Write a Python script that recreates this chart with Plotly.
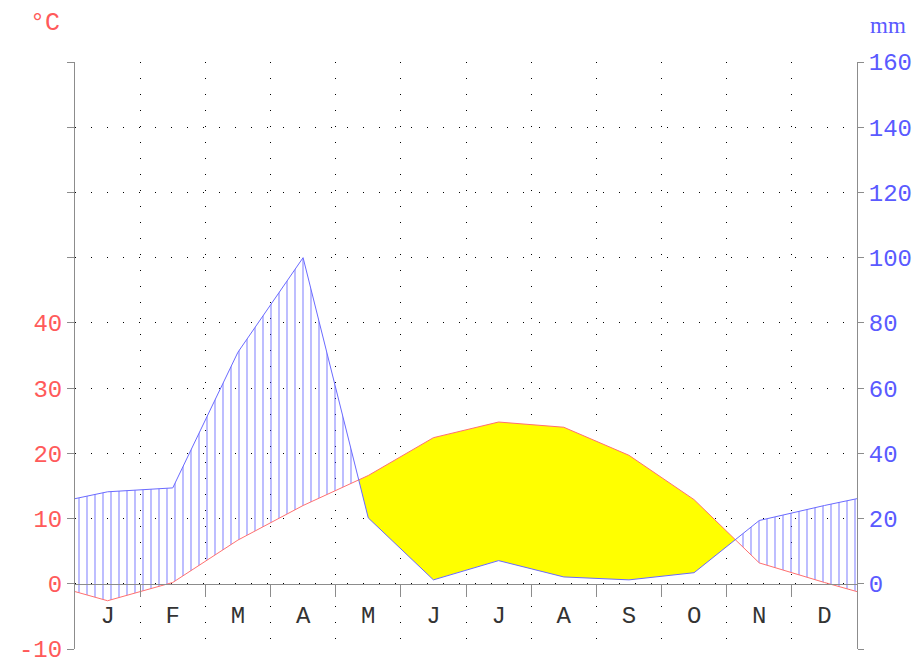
import plotly.graph_objects as go

months = ["J", "F", "M", "A", "M", "J", "J", "A", "S", "O", "N", "D"]
temp_c = [-2.6, 0.2, 6.7, 12.0, 16.6, 22.4, 24.8, 24.0, 19.7, 12.9, 3.2, 0.2]
precip_mm = [28.2, 29.4, 71.0, 100.0, 20.2, 1.2, 7.1, 2.1, 1.2, 3.4, 19.4, 24.0]
temp_ticks = [-10, 0, 10, 20, 30, 40, 50, 60, 70, 80]
temp_labels = ["-10", "0", "10", "20", "30", "40", "", "", "", ""]
precip_ticks = [-20, 0, 20, 40, 60, 80, 100, 120, 140, 160]
precip_labels = ["", "0", "20", "40", "60", "80", "100", "120", "140", "160"]

RED_TXT = "#ff5a5a"
BLUE_TXT = "#5a5aff"
AX = "#8c8c8c"
GRID = "#000000"
FONT = "Liberation Mono"

# extended series (wrap-around edges at 0 and 12), month centres at i+0.5
n = len(months)
xc = [i + 0.5 for i in range(n)]
t_edge = (temp_c[0] + temp_c[-1]) / 2
p_edge = (precip_mm[0] + precip_mm[-1]) / 2
xe = [0.0] + xc + [float(n)]
te = [t_edge] + temp_c + [t_edge]
pe = [p_edge] + precip_mm + [p_edge]
pe2 = [v / 2 for v in pe]  # precipitation in degree-equivalent (2 mm = 1 degC)

# insert crossing points
xs, ts, ps = [], [], []
for i in range(len(xe) - 1):
    xs.append(xe[i]); ts.append(te[i]); ps.append(pe2[i])
    d0 = pe2[i] - te[i]
    d1 = pe2[i + 1] - te[i + 1]
    if d0 * d1 < 0:
        f = d0 / (d0 - d1)
        xs.append(xe[i] + f * (xe[i + 1] - xe[i]))
        ts.append(te[i] + f * (te[i + 1] - te[i]))
        ps.append(pe2[i] + f * (pe2[i + 1] - pe2[i]))
xs.append(xe[-1]); ts.append(te[-1]); ps.append(pe2[-1])
upper = [max(a, b) for a, b in zip(ts, ps)]

fig = go.Figure()
# humid period: vertical hatching between temperature and precipitation
fig.add_trace(go.Scatter(x=xs, y=ts, mode="lines", line=dict(width=0),
                         hoverinfo="skip", showlegend=False))
fig.add_trace(go.Scatter(x=xs, y=upper, mode="lines", line=dict(width=0),
                         fill="tonexty", fillcolor="rgba(0,0,0,0)",
                         fillpattern=dict(shape="|", size=8, solidity=0.2,
                                          fgcolor="rgba(80,80,255,0.95)",
                                          bgcolor="rgba(0,0,0,0)"),
                         hoverinfo="skip", showlegend=False))
# arid period: yellow fill
fig.add_trace(go.Scatter(x=xs, y=ps, mode="lines", line=dict(width=0),
                         hoverinfo="skip", showlegend=False))
fig.add_trace(go.Scatter(x=xs, y=upper, mode="lines", line=dict(width=0),
                         fill="tonexty", fillcolor="#ffff00",
                         hoverinfo="skip", showlegend=False))
# lines
fig.add_trace(go.Scatter(x=xe, y=pe, mode="lines", yaxis="y2",
                         line=dict(color="#6a6aff", width=1), showlegend=False))
fig.add_trace(go.Scatter(x=xe, y=te, mode="lines",
                         line=dict(color="#ff7070", width=1), showlegend=False))
# invisible trace for month axis
fig.add_trace(go.Scatter(x=xc, y=[None] * n, xaxis="x2", mode="markers",
                         showlegend=False, hoverinfo="skip"))

zero_pos = (0 - (-10)) / 90.0

fig.update_layout(
    width=915, height=657,
    margin=dict(l=67, r=66, t=54, b=16, autoexpand=False),
    plot_bgcolor="white", paper_bgcolor="white",
    xaxis=dict(range=[0, 12], tickvals=list(range(1, 12)), showticklabels=False,
               ticks="outside", ticklen=12, tickcolor=AX, tickwidth=1,
               showgrid=True, gridcolor=GRID, griddash="1px,15px", gridwidth=1,
               showline=True, linecolor=AX, linewidth=1,
               anchor="free", position=zero_pos, zeroline=False, fixedrange=True),
    xaxis2=dict(range=[0, 12], overlaying="x", anchor="free", position=zero_pos,
                tickvals=xc, ticktext=months, ticks="outside", ticklen=9,
                tickcolor="rgba(0,0,0,0)", showgrid=False, showline=False,
                zeroline=False, tickfont=dict(family=FONT, size=24, color="#333333")),
    yaxis=dict(range=[-10, 80], tickvals=temp_ticks, ticktext=temp_labels,
               ticks="outside", ticklen=7, tickcolor=AX,
               showgrid=True, gridcolor=GRID, griddash="1px,15px",
               showline=True, linecolor=AX, zeroline=False,
               tickfont=dict(family=FONT, size=24, color=RED_TXT)),
    yaxis2=dict(range=[-20, 160], tickvals=precip_ticks, ticktext=precip_labels,
                overlaying="y", side="right", ticks="outside", ticklen=6,
                tickcolor=AX, showgrid=False, showline=True, linecolor=AX,
                zeroline=False, tickfont=dict(family=FONT, size=24, color=BLUE_TXT)),
    annotations=[
        dict(text="°C", xref="paper", yref="paper", x=-0.0384, y=1 + 54 / 587,
             xanchor="center", yanchor="top", borderpad=0, showarrow=False,
             font=dict(family=FONT, size=25, color=RED_TXT)),
        dict(text="mm", xref="paper", yref="paper", x=(888 - 75) / 782, y=1 + 37 / 587,
             xanchor="center", yanchor="middle", showarrow=False,
             font=dict(family="Liberation Serif", size=23, color=BLUE_TXT)),
    ],
)

fig.write_html("out.html")
